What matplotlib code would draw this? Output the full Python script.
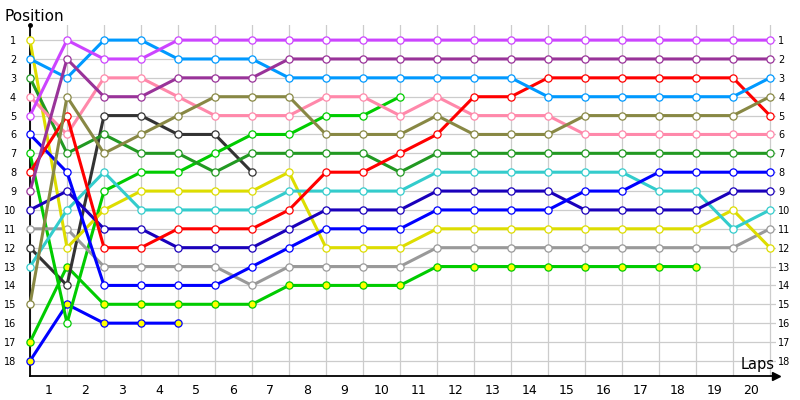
import matplotlib
matplotlib.use('Agg')
import matplotlib.pyplot as plt
import matplotlib.transforms as mtrans

laps = list(range(21))
lap_labels = [str(i) for i in range(1, 21)]
positions = list(range(1, 19))

violet = [5, 1, 2, 2, 1, 1, 1, 1, 1, 1, 1, 1, 1, 1, 1, 1, 1, 1, 1, 1, 1]
plum = [9, 2, 4, 4, 3, 3, 3, 2, 2, 2, 2, 2, 2, 2, 2, 2, 2, 2, 2, 2, 2]
sky = [2, 3, 1, 1, 2, 2, 2, 3, 3, 3, 3, 3, 3, 3, 4, 4, 4, 4, 4, 4, 3]
pink = [4, 6, 3, 3, 4, 5, 5, 5, 4, 4, 5, 4, 5, 5, 5, 6, 6, 6, 6, 6, 6]
olive = [15, 4, 7, 6, 5, 4, 4, 4, 6, 6, 6, 5, 6, 6, 6, 5, 5, 5, 5, 5, 4]
charcoal = [12, 14, 5, 5, 6, 6, 8]
forest = [3, 7, 6, 7, 7, 8, 7, 7, 7, 7, 8, 7, 7, 7, 7, 7, 7, 7, 7, 7, 7]
lime = [7, 16, 9, 8, 8, 7, 6, 6, 5, 5, 4]
red = [8, 5, 12, 12, 11, 11, 11, 10, 8, 8, 7, 6, 4, 4, 3, 3, 3, 3, 3, 3, 5]
cyan = [13, 10, 8, 10, 10, 10, 10, 9, 9, 9, 9, 8, 8, 8, 8, 8, 8, 9, 9, 11, 10]
yellow = [1, 12, 10, 9, 9, 9, 9, 8, 12, 12, 12, 11, 11, 11, 11, 11, 11, 11, 11, 10, 12]
navy = [10, 9, 11, 11, 12, 12, 12, 11, 10, 10, 10, 9, 9, 9, 9, 10, 10, 10, 10, 9, 9]
blue = [6, 8, 14, 14, 14, 14, 13, 12, 11, 11, 11, 10, 10, 10, 10, 9, 9, 8, 8, 8, 8]
gray = [11, 11, 13, 13, 13, 13, 14, 13, 13, 13, 13, 12, 12, 12, 12, 12, 12, 12, 12, 12, 11]
green_lapped = [17, 13, 15, 15, 15, 15, 15, 14, 14, 14, 14, 13, 13, 13, 13, 13, 13, 13, 13]
blue_lapped = [18, 15, 16, 16, 16]

# (data, line colour, marker face)
series = [
    (blue_lapped, '#0000ff', '#ffff00'),
    (green_lapped, '#00cc00', '#ffff00'),
    (charcoal, '#333333', 'white'),
    (lime, '#00cc00', 'white'),
    (gray, '#999999', 'white'),
    (yellow, '#dddd00', 'white'),
    (cyan, '#33cccc', 'white'),
    (navy, '#1a00bb', 'white'),
    (blue, '#0000ff', 'white'),
    (forest, '#229922', 'white'),
    (pink, '#ff88aa', 'white'),
    (red, '#ff0000', 'white'),
    (olive, '#888844', 'white'),
    (sky, '#0099ff', 'white'),
    (plum, '#993399', 'white'),
    (violet, '#cc44ff', 'white'),
]

fig = plt.figure(figsize=(8, 4), dpi=100)
ax = fig.add_axes([30 / 800, 1 - 376 / 400, 745.5 / 800, 351 / 400])

for data, col, face in series:
    ax.plot(laps[:len(data)], data, color=col, lw=2.2, marker='o', ms=5.2,
            mfc=face, mec=col, mew=0.9, zorder=3, clip_on=False)

ax.set_xlim(0, 20.15)
ax.set_ylim(18.8, 0.2)

# grid on the laps, labels in between
ax.set_xticks(laps)
ax.set_xticklabels([])
ax.set_xticks([i - 0.5 for i in range(1, 21)], minor=True)
ax.set_xticklabels(lap_labels, minor=True, fontsize=9)
ax.set_yticks(positions)
ax.set_yticklabels([str(p) for p in positions], fontsize=7)
ax.tick_params(axis='x', which='both', length=0, pad=6)
ax.tick_params(axis='y', length=0, labelleft=True, labelright=True, pad=10)
ax.grid(True, which='major', color='#cccccc', lw=0.9, zorder=0)
ax.set_axisbelow(True)

for s in ['top', 'right']:
    ax.spines[s].set_visible(False)
ax.spines['left'].set_linewidth(1.3)
ax.spines['bottom'].set_linewidth(1.3)

ax.plot(1.0, 0, marker='>', color='black', ms=6, transform=ax.transAxes, clip_on=False)
ax.plot(0, 1.0, marker='o', color='black', ms=2.5, transform=ax.transAxes, clip_on=False)

# right labels sit close to the last lap
shift = mtrans.ScaledTranslation(-8 / 72, 0, fig.dpi_scale_trans)
for t in ax.yaxis.get_major_ticks():
    t.label2.set_horizontalalignment('left')
    t.label2.set_transform(t.label2.get_transform() + shift)

fig.text(4 / 800, 1 - 21 / 400, 'Position', ha='left', va='baseline', fontsize=11)
fig.text(775 / 800, 1 - 369 / 400, 'Laps', ha='right', va='baseline', fontsize=10.5)

fig.savefig('out.png')
